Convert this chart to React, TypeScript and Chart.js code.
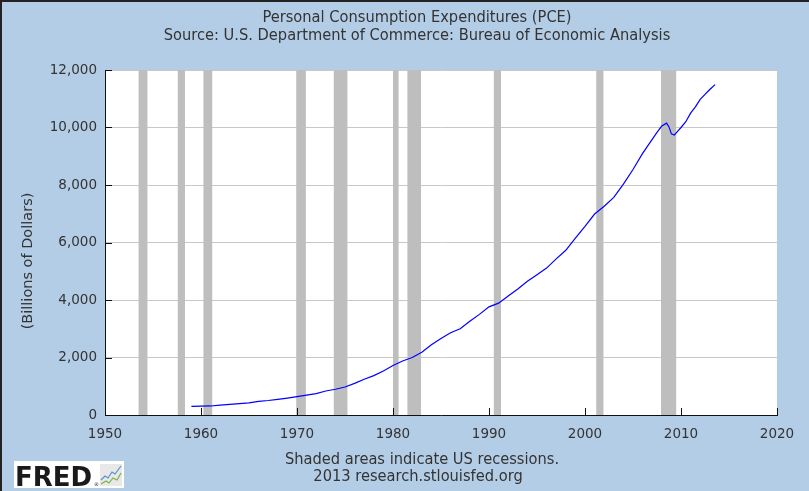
import React, { useEffect, useRef } from 'react';
import { Chart, registerables } from 'chart.js';
Chart.register(...registerables);

const titleText = 'Personal Consumption Expenditures (PCE)';
const subtitleText = 'Source: U.S. Department of Commerce: Bureau of Economic Analysis';
const yAxisTitle = '(Billions of Dollars)';
const footerLines = ['Shaded areas indicate US recessions.', '2013 research.stlouisfed.org'];

const years = [
  1959.0, 1960.0, 1961.0, 1962.0, 1963.0, 1964.0, 1965.0, 1966.0, 1967.0, 1968.0,
  1969.0, 1970.0, 1971.0, 1972.0, 1973.0, 1974.0, 1975.0, 1976.0, 1977.0, 1978.0,
  1979.0, 1980.0, 1981.0, 1982.0, 1983.0, 1984.0, 1985.0, 1986.0, 1987.0, 1988.0,
  1989.0, 1990.0, 1991.0, 1992.0, 1993.0, 1994.0, 1995.0, 1996.0, 1997.0, 1998.0,
  1999.0, 2000.0, 2001.0, 2002.0, 2003.0, 2004.0, 2005.0, 2006.0, 2007.0, 2007.5,
  2008.0, 2008.5, 2008.75, 2009.0, 2009.3, 2009.6, 2010.0, 2010.5, 2011.0, 2011.5,
  2012.0, 2012.5, 2013.0, 2013.55,
];
const pce = [
  300, 310, 314, 345, 368, 395, 425, 475, 505, 545,
  590, 640, 690, 745, 835, 895, 975, 1100, 1245, 1370,
  1530, 1720, 1880, 2000, 2180, 2440, 2660, 2860, 3000, 3260,
  3500, 3760, 3890, 4140, 4380, 4650, 4880, 5110, 5430, 5730,
  6150, 6560, 6990, 7260, 7570, 8030, 8540, 9100, 9590, 9830,
  10050, 10150, 10020, 9780, 9740, 9850, 10000, 10200, 10500, 10720,
  10980, 11150, 11320, 11490,
];

const recessionStarts = [1953.5, 1957.58, 1960.25, 1969.92, 1973.83, 1980.0, 1981.5, 1990.5, 2001.17, 2007.92];
const recessionEnds = [1954.42, 1958.33, 1961.17, 1970.92, 1975.25, 1980.58, 1982.92, 1991.25, 2001.92, 2009.5];

const xTicks = [1950, 1960, 1970, 1980, 1990, 2000, 2010, 2020];
const yTicks = [0, 2000, 4000, 6000, 8000, 10000, 12000];

const BG = '#B4CDE6';
const TEXT = '#333333';
const COND = '"DejaVu Sans Condensed", "DejaVu Sans", sans-serif';

const decorPlugin = {
  id: 'decor',
  beforeDraw(chart: any) {
    const { ctx, chartArea: a, width, height } = chart;
    ctx.save();
    ctx.fillStyle = BG;
    ctx.fillRect(0, 0, width, height);
    ctx.fillStyle = '#FFFFFF';
    ctx.fillRect(a.left, a.top, a.right - a.left, a.bottom - a.top);
    ctx.restore();
  },
  beforeDatasetsDraw(chart: any) {
    const { ctx, chartArea: a, scales } = chart;
    const xs = scales.x;
    ctx.save();
    ctx.fillStyle = '#BEBEBE';
    for (let i = 0; i < recessionStarts.length; i++) {
      const x1 = xs.getPixelForValue(recessionStarts[i]);
      const x2 = xs.getPixelForValue(recessionEnds[i]);
      ctx.fillRect(x1, a.top, x2 - x1, a.bottom - a.top);
    }
    ctx.restore();
  },
  afterDraw(chart: any) {
    const { ctx, chartArea: a, scales, width, height } = chart;
    ctx.save();
    // inside tick marks
    ctx.strokeStyle = '#111111';
    ctx.lineWidth = 1;
    ctx.beginPath();
    for (const v of yTicks) {
      const y = Math.round(scales.y.getPixelForValue(v)) + 0.5;
      ctx.moveTo(a.left, y);
      ctx.lineTo(a.left + 7, y);
    }
    for (const v of xTicks) {
      const x = Math.round(scales.x.getPixelForValue(v)) + 0.5;
      ctx.moveTo(x, a.bottom);
      ctx.lineTo(x, a.bottom - 7);
    }
    ctx.stroke();

    // titles
    ctx.fillStyle = TEXT;
    ctx.textAlign = 'center';
    ctx.textBaseline = 'middle';
    ctx.font = `16.3px ${COND}`;
    ctx.fillText(titleText, 417, 18);
    ctx.fillText(subtitleText, 417, 36);

    // footer
    ctx.font = `16.3px ${COND}`;
    ctx.fillText(footerLines[0], 422, 460);
    ctx.fillText(footerLines[1], 418, 477);

    // y axis title
    ctx.save();
    ctx.translate(28, 261);
    ctx.rotate(-Math.PI / 2);
    ctx.font = '14.5px "DejaVu Sans", sans-serif';
    ctx.fillText(yAxisTitle, 0, 0);
    ctx.restore();

    // FRED logo
    ctx.fillStyle = '#FFFFFF';
    ctx.fillRect(14, 461, 110, 27);
    ctx.fillStyle = '#1a1a1a';
    ctx.textAlign = 'left';
    ctx.textBaseline = 'alphabetic';
    ctx.font = 'bold 26px "DejaVu Sans", sans-serif';
    ctx.fillText('FRED', 15, 486);
    ctx.font = '5px "DejaVu Sans", sans-serif';
    ctx.fillText('®', 94, 486);
    ctx.fillStyle = '#E8E8E8';
    ctx.fillRect(100, 464, 22, 22);
    ctx.lineWidth = 1.2;
    ctx.strokeStyle = '#5B8FC9';
    ctx.beginPath();
    ctx.moveTo(101, 480); ctx.lineTo(105, 476); ctx.lineTo(108, 478); ctx.lineTo(112, 472);
    ctx.lineTo(115, 474); ctx.lineTo(121, 466);
    ctx.stroke();
    ctx.strokeStyle = '#7DB24A';
    ctx.beginPath();
    ctx.moveTo(101, 484); ctx.lineTo(106, 481); ctx.lineTo(109, 483); ctx.lineTo(113, 478);
    ctx.lineTo(117, 480); ctx.lineTo(121, 473);
    ctx.stroke();

    // outer frame (top & left)
    ctx.fillStyle = '#222222';
    ctx.fillRect(0, 0, width, 2);
    ctx.fillRect(0, 0, 2, height);
    ctx.restore();
  },
};

export default function App() {
  const ref = useRef<HTMLCanvasElement | null>(null);
  useEffect(() => {
    if (!ref.current) return;
    const points = years.map((x, i) => ({ x, y: pce[i] }));
    const chart = new Chart(ref.current, {
      type: 'line',
      data: {
        datasets: [
          {
            label: 'PCE',
            data: points,
            borderColor: '#0000FF',
            borderWidth: 1.2,
            pointRadius: 0,
            tension: 0,
            fill: false,
          },
        ],
      },
      options: {
        responsive: false,
        animation: false,
        events: [],
        layout: { padding: { left: 0, top: 70, right: 32, bottom: 0 } },
        plugins: {
          legend: { display: false },
          title: { display: false },
          tooltip: { enabled: false },
        },
        scales: {
          x: {
            type: 'linear',
            min: 1950,
            max: 2020,
            afterFit: (s: any) => { s.height = 76; },
            afterBuildTicks: (s: any) => { s.ticks = xTicks.map((v) => ({ value: v })); },
            grid: { display: false, drawTicks: false },
            border: { display: true, color: '#111111', width: 1 },
            ticks: {
              padding: 11,
              color: TEXT,
              font: { family: '"DejaVu Sans", sans-serif', size: 13.5 },
              callback: (v: any) => String(v),
              maxRotation: 0,
              autoSkip: false,
            },
          },
          y: {
            type: 'linear',
            min: 0,
            max: 12000,
            afterFit: (s: any) => { s.width = 105; },
            afterBuildTicks: (s: any) => { s.ticks = yTicks.map((v) => ({ value: v })); },
            grid: { display: true, color: '#C8C8C8', lineWidth: 1, drawTicks: false },
            border: { display: true, color: '#111111', width: 1 },
            ticks: {
              padding: 8,
              color: TEXT,
              font: { family: '"DejaVu Sans", sans-serif', size: 13.5 },
              callback: (v: any) => Number(v).toLocaleString('en-US'),
              autoSkip: false,
            },
          },
        },
      },
      plugins: [decorPlugin],
    });
    return () => chart.destroy();
  }, []);
  return (
    <div style={{ position: 'fixed', left: 0, top: 0, width: 809, height: 491 }}>
      <canvas ref={ref} width={809} height={491} style={{ width: 809, height: 491, display: 'block' }} />
    </div>
  );
}
